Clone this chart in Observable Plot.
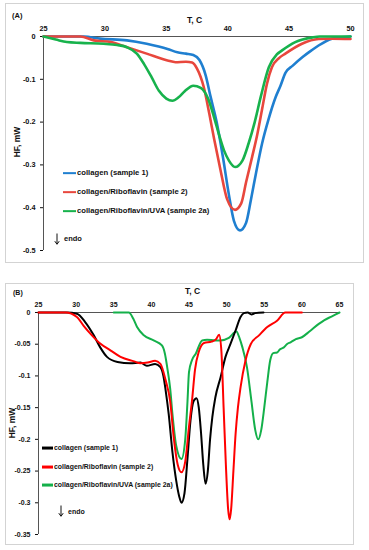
<!DOCTYPE html>
<html><head><meta charset="utf-8">
<script src="https://cdn.jsdelivr.net/npm/d3@7"></script>
<script src="https://cdn.jsdelivr.net/npm/@observablehq/plot@0.6"></script>
<style>
body{margin:0;background:#fff;font-family:"Liberation Sans",Arial,sans-serif;}
#wrap{position:relative;width:369px;height:550px;overflow:hidden;background:#fff;}
#wrap > svg{position:absolute;left:0;}
.panel{position:absolute;border:1px solid #d3d3d3;box-sizing:border-box;pointer-events:none;}
.t{position:absolute;font-weight:bold;color:#111;white-space:nowrap;line-height:1;transform:translateY(-50%);display:flex;align-items:center;}
.rot{position:absolute;font-weight:bold;color:#111;white-space:nowrap;line-height:1;transform:translate(-50%,-50%) rotate(-90deg);}
.leg{position:absolute;font-weight:bold;color:#111;white-space:nowrap;line-height:1;transform:translateY(-50%);display:flex;align-items:center;}
.leg span.sw{display:inline-block;height:2.5px;margin-right:1px;}
</style>
</head><body>
<div id="wrap"></div>
<script>
// ---------- Panel A data ----------
const xTicksA = [25, 30, 35, 40, 45, 50];
const yTicksA = [0, -0.1, -0.2, -0.3, -0.4, -0.5];
const labelsA = ["collagen (sample 1)", "collagen/Riboflavin (sample 2)", "collagen/Riboflavin/UVA (sample 2a)"];
const colorsA = ["#1f7fd0", "#e8473d", "#17b24c"];

const A1_T  = [25, 27, 28.3, 29.6, 31.8, 33.4, 35.1, 35.9, 36.6, 37.2, 37.7, 38.2, 38.6, 39.1, 39.6, 40.1, 40.5, 41.0, 41.5, 41.9, 42.3, 42.8, 43.3, 43.9, 44.3, 44.7, 45.3, 46.1, 46.8, 47.4, 48.5, 49.3, 50];
const A1_HF = [0, 0, 0, -0.005, -0.009, -0.017, -0.029, -0.037, -0.04, -0.043, -0.055, -0.09, -0.14, -0.2, -0.28, -0.37, -0.43, -0.453, -0.435, -0.38, -0.32, -0.25, -0.196, -0.142, -0.115, -0.085, -0.068, -0.048, -0.033, -0.021, -0.005, -0.002, 0];

const A2_T  = [25, 28, 29.1, 30.5, 31.8, 33.4, 35.1, 35.75, 36.6, 37.1, 37.5, 38.05, 38.5, 38.9, 39.4, 39.95, 40.6, 41.1, 41.5, 42.0, 42.4, 42.8, 43.2, 43.6, 44.2, 44.7, 46.05, 47.4, 48.5, 50];
const A2_HF = [0, 0, -0.009, -0.013, -0.025, -0.04, -0.056, -0.06, -0.059, -0.061, -0.075, -0.118, -0.18, -0.24, -0.31, -0.38, -0.405, -0.39, -0.34, -0.28, -0.23, -0.17, -0.11, -0.072, -0.05, -0.04, -0.017, -0.006, -0.005, -0.006];

const A3_T  = [25, 26, 26.9, 28, 29.9, 31, 31.8, 32.6, 33.2, 33.8, 34.4, 35.0, 35.5, 36.0, 36.5, 37.2, 37.8, 38.4, 38.9, 39.3, 39.7, 40.1, 40.6, 41.2, 41.7, 42.2, 42.7, 43.35, 44.0, 44.4, 45.5, 46.9, 47.5, 50];
const A3_HF = [0, -0.007, -0.013, -0.015, -0.017, -0.02, -0.025, -0.04, -0.065, -0.095, -0.127, -0.145, -0.15, -0.142, -0.128, -0.115, -0.12, -0.145, -0.19, -0.23, -0.266, -0.29, -0.305, -0.29, -0.25, -0.2, -0.14, -0.072, -0.042, -0.033, -0.013, -0.002, 0, 0];

// ---------- Panel B data ----------
const xTicksB = [25, 30, 35, 40, 45, 50, 55, 60, 65];
const yTicksB = [0, -0.05, -0.1, -0.15, -0.2, -0.25, -0.3, -0.35];
const labelsB = ["collagen (sample 1)", "collagen/Riboflavin (sample 2)", "collagen/Riboflavin/UVA (sample 2a)"];
const colorsB = ["#000000", "#ff0000", "#14b04a"];

const B1_T  = [25, 28.8, 30.1, 31.2, 32.35, 33.2, 34.1, 35.5, 37.2, 38.55, 39.4, 40.5, 41.2, 41.6, 41.9, 42.3, 42.8, 43.3, 43.7, 44.0, 44.4, 44.8, 45.2, 45.6, 46.0, 46.3, 46.6, 46.9, 47.2, 47.5, 47.8, 48.1, 48.5, 49.2, 49.85, 50.5, 51.2, 51.85, 52.3, 52.8, 53.3, 53.8, 54.9];
const B1_HF = [0, 0, -0.002, -0.015, -0.036, -0.055, -0.07, -0.078, -0.08, -0.079, -0.084, -0.081, -0.086, -0.1, -0.123, -0.16, -0.22, -0.265, -0.29, -0.3, -0.285, -0.23, -0.17, -0.14, -0.135, -0.15, -0.19, -0.24, -0.27, -0.25, -0.2, -0.165, -0.134, -0.102, -0.07, -0.05, -0.028, -0.007, -0.001, 0, -0.003, -0.001, 0];

const B2_T  = [25, 28.6, 30.1, 31.0, 32.1, 33.2, 34.6, 35.9, 37.7, 38.55, 39.5, 40.5, 41.2, 41.9, 42.5, 43.0, 43.5, 44.0, 44.5, 45.0, 45.4, 45.8, 46.3, 47.0, 48.0, 48.6, 49.0, 49.3, 49.6, 49.9, 50.2, 50.4, 50.6, 50.9, 51.2, 51.5, 51.85, 52.5, 53.2, 54.3, 55.4, 56.7, 57.8, 60];
const B2_HF = [0, 0, -0.007, -0.021, -0.036, -0.049, -0.06, -0.07, -0.077, -0.08, -0.079, -0.076, -0.081, -0.107, -0.14, -0.2, -0.24, -0.252, -0.235, -0.18, -0.139, -0.09, -0.062, -0.048, -0.046, -0.042, -0.035, -0.06, -0.15, -0.24, -0.31, -0.326, -0.31, -0.25, -0.19, -0.15, -0.118, -0.076, -0.05, -0.036, -0.023, -0.013, 0, 0];

const B3_T  = [35, 37.0, 37.6, 38.1, 39.0, 40.3, 41.4, 41.8, 42.1, 42.5, 42.8, 43.3, 44.0, 44.5, 44.8, 45.0, 45.4, 45.9, 46.75, 47.4, 48.5, 49.2, 50.3, 51.3, 51.7, 52.1, 52.7, 53.3, 53.8, 54.2, 54.6, 55.0, 55.4, 55.8, 56.2, 56.7, 57.1, 57.6, 58.0, 58.5, 59.2, 60.0, 61.0, 62.25, 63.0, 64.0, 65];
const B3_HF = [0, 0, -0.01, -0.023, -0.036, -0.044, -0.052, -0.065, -0.086, -0.12, -0.16, -0.21, -0.231, -0.2, -0.14, -0.094, -0.075, -0.065, -0.044, -0.043, -0.044, -0.044, -0.04, -0.03, -0.04, -0.055, -0.086, -0.14, -0.185, -0.2, -0.185, -0.15, -0.11, -0.075, -0.064, -0.063, -0.058, -0.055, -0.05, -0.047, -0.042, -0.039, -0.03, -0.018, -0.012, -0.006, 0];

function rows(T, HF, s) { return T.map((t, i) => ({T: t, HF: HF[i], s})); }
const dataA = [...rows(A1_T, A1_HF, labelsA[0]), ...rows(A2_T, A2_HF, labelsA[1]), ...rows(A3_T, A3_HF, labelsA[2])];
const dataB = [...rows(B1_T, B1_HF, labelsB[0]), ...rows(B2_T, B2_HF, labelsB[1]), ...rows(B3_T, B3_HF, labelsB[2])];

const FONT = '"Liberation Sans", Arial, sans-serif';
const wrap = document.getElementById("wrap");

function makePanel({data, labels, colors, xDomain, yDomain, xTicks, yTicks, height, mt, mb, ml, mr, sw, order, fs}) {
  return Plot.plot({
    width: 369, height,
    marginTop: mt, marginBottom: mb, marginLeft: ml, marginRight: mr,
    style: {fontFamily: FONT, fontSize: fs + "px", fontWeight: "bold", color: "#111", background: "transparent", overflow: "visible"},
    x: {domain: xDomain, label: null},
    y: {domain: yDomain, label: null},
    color: {domain: labels, range: colors},
    marks: [
      Plot.axisX({anchor: "top", ticks: xTicks, tickSize: 0, tickPadding: 6, label: null, tickFormat: d => String(d)}),
      Plot.axisY({anchor: "left", ticks: yTicks, tickSize: 3, tickPadding: 5, label: null, tickFormat: d => String(d)}),
      Plot.ruleY([0], {stroke: "#555", strokeWidth: 1}),
      Plot.ruleX([xDomain[0]], {stroke: "#555", strokeWidth: 1}),
      ...order.map(k => Plot.lineY(data.filter(d => d.s === labels[k]), {x: "T", y: "HF", stroke: "s", strokeWidth: sw, curve: "monotone-x"}))
    ]
  });
}

const svgA = makePanel({data: dataA, labels: labelsA, colors: colorsA, xDomain: [25, 50], yDomain: [-0.5, 0],
  xTicks: xTicksA, yTicks: yTicksA, height: 265, mt: 36, mb: 15, ml: 43, mr: 19, sw: 2.6, order: [0, 1, 2], fs: 7.3});
svgA.style.top = "0px";
wrap.appendChild(svgA);

const svgB = makePanel({data: dataB, labels: labelsB, colors: colorsB, xDomain: [25, 65], yDomain: [-0.35, 0],
  xTicks: xTicksB, yTicks: yTicksB, height: 270, mt: 32, mb: 16, ml: 38, mr: 30, sw: 2, order: [2, 0, 1], fs: 7});
svgB.style.top = "280px";
wrap.appendChild(svgB);

function addText(cls, html, left, top, size, extra) {
  const d = document.createElement("div");
  d.className = cls; d.innerHTML = html;
  d.style.left = left + "px"; d.style.top = top + "px"; d.style.fontSize = size + "px";
  if (extra) Object.assign(d.style, extra);
  wrap.appendChild(d); return d;
}
// panel borders
addText("panel", "", 5, 3, 0, {width: "359px", height: "260px", transform: "none"});
addText("panel", "", 5, 283, 0, {width: "349px", height: "262px", transform: "none"});

const ARROW = '<svg width="6" height="12" viewBox="0 0 6 12" style="margin-right:4px;overflow:visible"><path d="M3,0.5V11" stroke="#111" stroke-width="1"/><path d="M0.8,8.2L3,11.3L5.2,8.2" fill="none" stroke="#111" stroke-width="1"/></svg>';

// Panel A texts
addText("t", "(A)", 12, 16, 7.5);
addText("t", "T, C", 187, 20, 8.5);
addText("rot", "HF, mW", 17, 142, 8.5);
labelsA.forEach((l, i) => {
  addText("leg", `<span class="sw" style="width:13px;background:${colorsA[i]}"></span>${l}`, 63, [173, 192, 211][i], 7.7);
});
addText("t", ARROW + "endo", 54, 239, 7.5);

// Panel B texts
addText("t", "(B)", 13, 292, 7);
addText("t", "T, C", 185, 291, 8.5);
addText("rot", "HF, mW", 12, 423, 8.5);
labelsB.forEach((l, i) => {
  addText("leg", `<span class="sw" style="width:11px;background:${colorsB[i]}"></span>${l}`, 42, [448, 467, 485][i], 6.9);
});
addText("t", ARROW + "endo", 58, 511, 7);
</script>
</body></html>
